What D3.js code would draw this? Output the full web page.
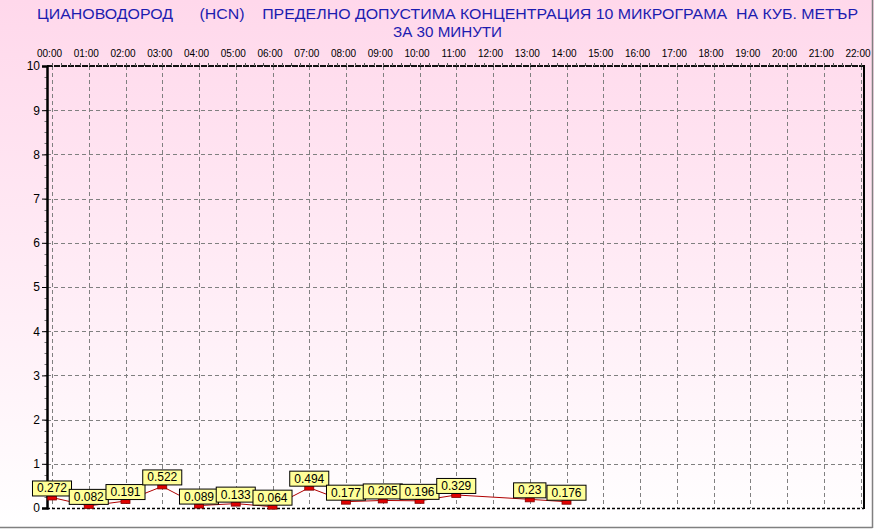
<!DOCTYPE html>
<html><head><meta charset="utf-8">
<script src="https://cdn.jsdelivr.net/npm/d3@7"></script>
<style>
html,body{margin:0;padding:0;overflow:hidden;background:#fff;}
text{font-family:"Liberation Sans",Arial,sans-serif;}
</style></head>
<body>
<svg id="chart" width="874" height="529"></svg>
<script>
const titleLine1 = "ЦИАНОВОДОРОД      (HCN)    ПРЕДЕЛНО ДОПУСТИМА КОНЦЕНТРАЦИЯ 10 МИКРОГРАМА  НА КУБ. МЕТЪР";
const titleLine2 = "ЗА 30 МИНУТИ";
const hourTicks = [0,1,2,3,4,5,6,7,8,9,10,11,12,13,14,15,16,17,18,19,20,21,22];
const hourLabels = ["00:00","01:00","02:00","03:00","04:00","05:00","06:00","07:00","08:00","09:00","10:00","11:00","12:00","13:00","14:00","15:00","16:00","17:00","18:00","19:00","20:00","21:00","22:00"];
const yTicks = [0,1,2,3,4,5,6,7,8,9,10];
const hours = [0,1,2,3,4,5,6,7,8,9,10,11,13,14];
const values = [0.272,0.082,0.191,0.522,0.089,0.133,0.064,0.494,0.177,0.205,0.196,0.329,0.23,0.176];
const valueLabels = ["0.272","0.082","0.191","0.522","0.089","0.133","0.064","0.494","0.177","0.205","0.196","0.329","0.23","0.176"];

const W = 874, H = 529;
const svg = d3.select("#chart");
const defs = svg.append("defs");
const grad = defs.append("linearGradient").attr("id","bg").attr("x1",0).attr("y1",0).attr("x2",0).attr("y2",1);
grad.append("stop").attr("offset","0%").attr("stop-color","#ffd8eb");
grad.append("stop").attr("offset","50%").attr("stop-color","#ffebf5");
grad.append("stop").attr("offset","100%").attr("stop-color","#ffffff");
svg.append("rect").attr("width",W).attr("height",H).attr("fill","url(#bg)");

// outer frame (3D edge)
svg.append("line").attr("x1",0).attr("x2",872.5).attr("y1",527.5).attr("y2",527.5).attr("stroke","#808080").attr("stroke-width",1.5);
svg.append("line").attr("x1",872.5).attr("x2",872.5).attr("y1",0).attr("y2",528).attr("stroke","#808080").attr("stroke-width",1.5);

const plotL = 47, plotR = 864, plotT = 66, plotB = 508;
const x = d3.scaleLinear().domain([0,22]).range([52,860.5]);
const y = d3.scaleLinear().domain([0,10]).range([plotB, plotT]);

// title
svg.append("text").attr("x",447.5).attr("y",19).attr("text-anchor","middle")
  .attr("fill","#1c1cb0").attr("font-size",14).attr("xml:space","preserve").style("white-space","pre")
  .attr("textLength",821).attr("lengthAdjust","spacingAndGlyphs").text(titleLine1);
svg.append("text").attr("x",447.5).attr("y",37).attr("text-anchor","middle")
  .attr("fill","#1c1cb0").attr("font-size",14).attr("textLength",109).attr("lengthAdjust","spacingAndGlyphs").text(titleLine2);

// gridlines
const grid = svg.append("g").attr("stroke","#808080").attr("stroke-width",1).attr("stroke-dasharray","4,3");
grid.selectAll("line.v").data(hourTicks).join("line").attr("class","v")
  .attr("x1",d=>Math.round(x(d))+0.5).attr("x2",d=>Math.round(x(d))+0.5).attr("y1",plotT).attr("y2",plotB);
grid.selectAll("line.h").data(yTicks.filter(d=>d>0&&d<10)).join("line").attr("class","h")
  .attr("x1",plotL).attr("x2",plotR).attr("y1",d=>Math.round(y(d))+0.5).attr("y2",d=>Math.round(y(d))+0.5);

// bottom zero line (dashed black)
svg.append("line").attr("x1",plotL).attr("x2",plotR).attr("y1",plotB+0.5).attr("y2",plotB+0.5)
  .attr("stroke","#000").attr("stroke-width",1.5).attr("stroke-dasharray","3,2");
// top border
svg.append("line").attr("x1",plotL).attr("x2",plotR).attr("y1",plotT).attr("y2",plotT)
  .attr("stroke","#111").attr("stroke-width",2).attr("stroke-dasharray","6,1");
// right border
svg.append("line").attr("x1",plotR).attr("x2",plotR).attr("y1",plotT-1).attr("y2",plotB+1)
  .attr("stroke","#000").attr("stroke-width",2);

// top minor ticks (quarter hours)
const qTicks = d3.range(0, 22*4+1).map(i=>i/4);
svg.append("g").selectAll("line").data(qTicks).join("line")
  .attr("x1",d=>Math.round(x(d))+0.5).attr("x2",d=>Math.round(x(d))+0.5).attr("y1",plotT-3).attr("y2",plotT)
  .attr("stroke","#555").attr("stroke-width",1);

// y minor ticks
const yMinor = d3.range(0,41).map(i=>i/4);
svg.append("g").selectAll("line").data(yMinor).join("line")
  .attr("x1",plotL-2.5).attr("x2",plotL).attr("y1",d=>Math.round(y(d))+0.5).attr("y2",d=>Math.round(y(d))+0.5)
  .attr("stroke","#777").attr("stroke-width",1);

// y axis
const yAxis = svg.append("g").attr("transform",`translate(${plotL},0)`)
  .call(d3.axisLeft(y).tickValues(yTicks).tickFormat(d3.format("d")).tickSize(5).tickPadding(2));
yAxis.select(".domain").attr("stroke","#000").attr("stroke-width",2.5);
yAxis.selectAll(".tick line").attr("stroke","#000");
yAxis.selectAll(".tick text").attr("font-size",12).attr("fill","#000").attr("font-family","Liberation Sans, Arial, sans-serif");

// top axis labels
const xAxis = svg.append("g").attr("transform",`translate(0,${plotT-9})`)
  .call(d3.axisTop(x).tickValues(hourTicks).tickFormat((d,i)=>hourLabels[i]).tickSize(0).tickPadding(0));
xAxis.select(".domain").remove();
xAxis.selectAll(".tick text").attr("font-size",10).attr("fill","#000").attr("dx",-3).attr("dy",0)
  .attr("font-family","Liberation Sans, Arial, sans-serif");

// series
const pts = hours.map((h,i)=>({h, v:values[i], lab:valueLabels[i]}));
svg.append("path").datum(pts)
  .attr("d", d3.line().x(d=>x(d.h)).y(d=>y(d.v)+1.5))
  .attr("fill","none").attr("stroke","#b00000").attr("stroke-width",1);
svg.append("g").selectAll("rect").data(pts).join("rect")
  .attr("x",d=>x(d.h)-4.5).attr("y",d=>y(d.v)-0.5).attr("width",9).attr("height",4.5)
  .attr("fill","#e00000").attr("stroke","#800000").attr("stroke-width",0.8);

// labels
const lg = svg.append("g");
pts.forEach(d=>{
  const g = lg.append("g");
  const txt = g.append("text").attr("x",x(d.h)).attr("y",y(d.v)-3.5).attr("text-anchor","middle")
    .attr("font-size",12).attr("fill","#000").text(d.lab);
  const w = txt.node().getComputedTextLength() + 9;
  g.insert("rect","text").attr("x",x(d.h)-w/2).attr("y",y(d.v)-15).attr("width",w).attr("height",15)
    .attr("fill","#ffff99").attr("stroke","#000").attr("stroke-width",1);
});
</script>
</body></html>
